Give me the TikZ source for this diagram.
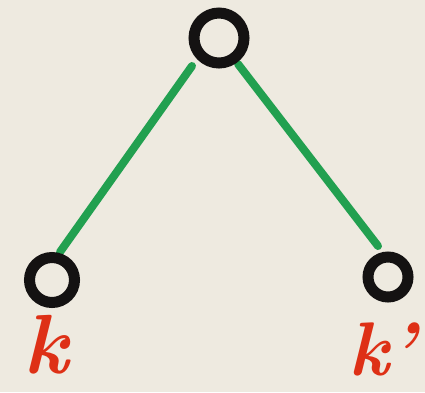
\documentclass[tikz,border=0pt]{standalone}
\definecolor{bg}{RGB}{238,234,224}
\definecolor{ring}{RGB}{20,18,18}
\definecolor{edgegreen}{RGB}{34,160,80}
\definecolor{labred}{RGB}{222,48,22}
\begin{document}
\begin{tikzpicture}[x=1pt,y=-1pt,
  ringnode/.style={circle,draw=ring,line width=11pt,inner sep=0pt},
  edgeline/.style={draw=edgegreen,line width=8pt,line cap=round},
  lab/.style={text=labred,font=\fontsize{84}{84}\selectfont\itshape\bfseries,inner sep=0pt,text depth=0pt}]
\fill[bg] (0,0) rectangle (425,392);
\useasboundingbox (0,0) rectangle (425,392);
\coordinate (lt) at (192,66);
\coordinate (lb) at (60,252);
\coordinate (rt) at (238,64);
\coordinate (rb) at (378,246);
\draw[edgeline] (lt) -- (lb);
\draw[edgeline] (rt) -- (rb);
\node[ringnode,minimum size=50pt] (top) at (219,38) {};
\node[ringnode,minimum size=45pt] (left) at (52,280) {};
\node[ringnode,minimum size=40pt] (right) at (388,277) {};
\node[lab,anchor=south] (k) at (46,374) {k};
\node[lab,anchor=south east,font=\fontsize{76}{76}\selectfont\itshape\bfseries] (kp) at (416,376) {k’};
\end{tikzpicture}
\end{document}
